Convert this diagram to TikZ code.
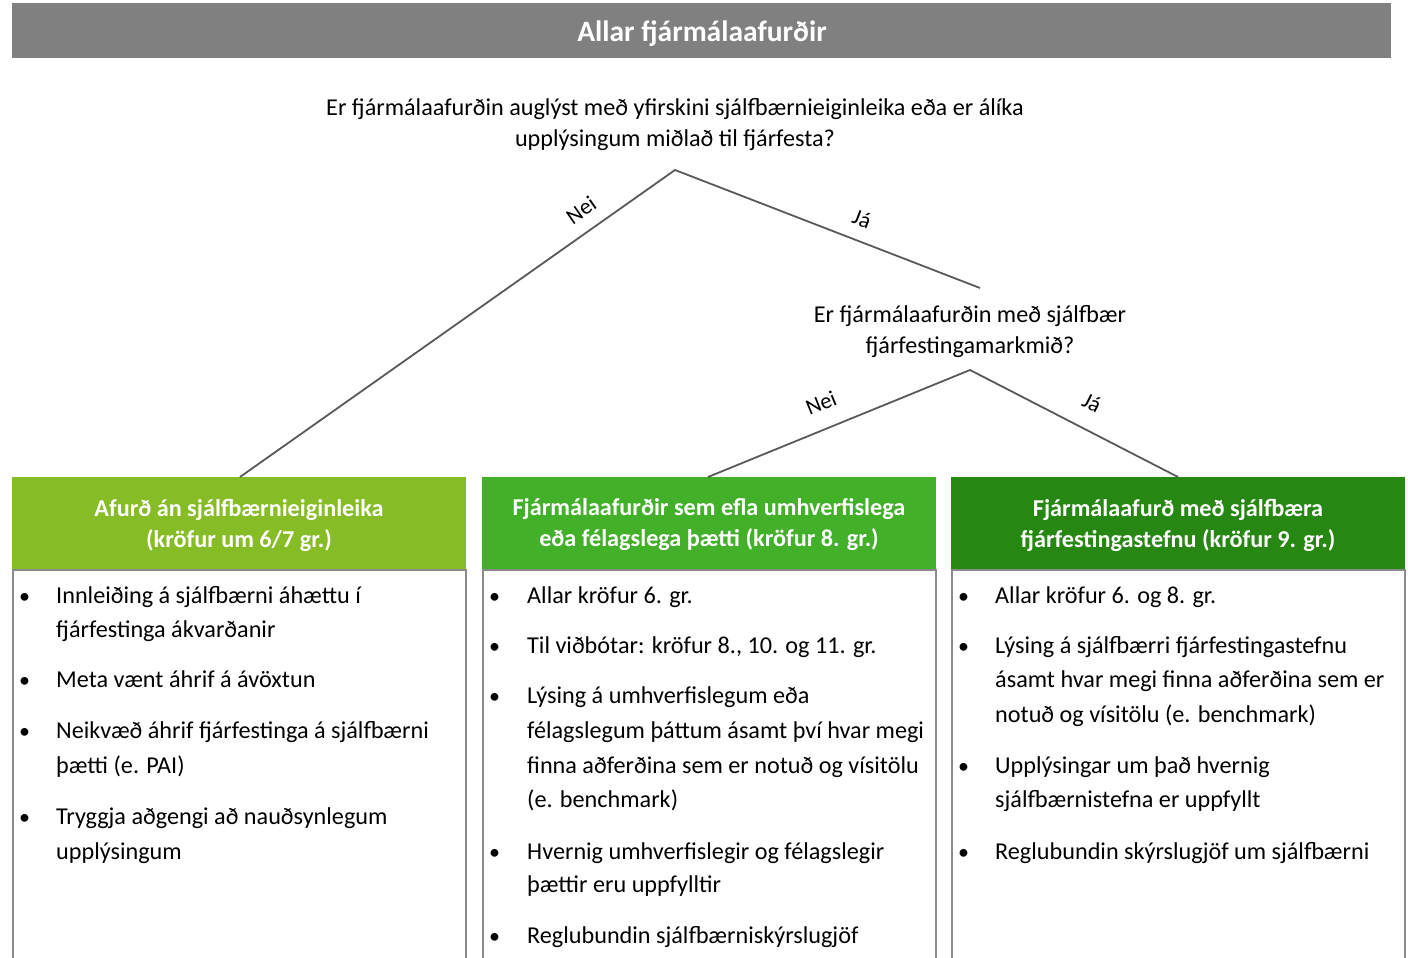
\documentclass[tikz,border=0pt]{standalone}
\usepackage{fontspec}
\setmainfont{Carlito}
\definecolor{hdrgray}{HTML}{808080}
\definecolor{gA}{HTML}{86BC25}
\definecolor{gB}{HTML}{43B02A}
\definecolor{gC}{HTML}{268712}
\definecolor{edgegray}{HTML}{8A8A8A}
\definecolor{linegray}{HTML}{595959}
\tikzset{
  conn/.style={draw=linegray, line width=1.8pt},
  lbl/.style={font=\fontsize{22.5}{26}\selectfont, inner sep=0pt},
  qtext/.style={font=\fontsize{24.2}{31}\selectfont, align=center, inner sep=0pt},
  boxhead/.style={font=\bfseries\fontsize{24.2}{31}\selectfont, text=white, align=center, inner sep=0pt},
  bl/.style={font=\fontsize{24.2}{28}\selectfont, anchor=base west, inner sep=0pt},
  dot/.style={font=\fontsize{22}{28}\selectfont, anchor=base west, inner sep=0pt},
}
\begin{document}
\begin{tikzpicture}[x=1pt,y=-1pt]
\useasboundingbox (0,0) rectangle (1408,958);
% top bar
\fill[hdrgray] (12,3) rectangle (1391,58);
\node[font=\bfseries\fontsize{29.5}{34}\selectfont, text=white, inner sep=0pt] (title) at (702,34) {Allar fjármálaafurðir};
% questions
\node[qtext] (q1) at (675,125) {Er fjármálaafurðin auglýst með yfirskini sjálfbærnieiginleika eða er álíka\\upplýsingum miðlað til fjárfesta?};
\node[qtext] (q2) at (970,332) {Er fjármálaafurðin með sjálfbær\\fjárfestingamarkmið?};
% connector points
\coordinate (a1) at (675,170);
\coordinate (a2) at (970,370);
\coordinate (q2top) at (980,288);
\coordinate (t1) at (240,477);
\coordinate (t2) at (708,477);
\coordinate (t3) at (1178,477);
% boxes
\fill[gA] (12,477) rectangle (466,570);
\fill[gB] (482,477) rectangle (936,570);
\fill[gC] (951,477) rectangle (1405,570);
\draw[edgegray, line width=1.3pt] (13,958) -- (13,570) -- (466,570) -- (466,958);
\draw[edgegray, line width=1.3pt] (483,958) -- (483,570) -- (936,570) -- (936,958);
\draw[edgegray, line width=1.3pt] (952,958) -- (952,570) -- (1405,570) -- (1405,958);
\node[boxhead] (h1) at (239,525) {Afurð án sjálfbærnieiginleika\\(kröfur um 6/7 gr.)};
\node[boxhead] (h2) at (709,525) {Fjármálaafurðir sem efla umhverfislega\\eða félagslega þætti (kröfur 8. gr.)};
\node[boxhead] (h3) at (1178,525) {Fjármálaafurð með sjálfbæra\\fjárfestingastefnu (kröfur 9. gr.)};
% connectors
\draw[conn] (t1) -- (a1) -- (q2top);
\draw[conn] (t2) -- (a2) -- (t3);
\node[lbl, rotate=35] (n1) at (581,210) {Nei};
\node[lbl, rotate=-21] (j1) at (862,219) {Já};
\node[lbl, rotate=22] (n2) at (821,403) {Nei};
\node[lbl, rotate=-27] (j2) at (1092,403) {Já};
% box 1 bullets
\node[dot] (b1a) at (19,603) {•};
\node[bl] (l1a) at (56,603) {Innleiðing á sjálfbærni áhættu í};
\node[bl] (l1b) at (56,637) {fjárfestinga ákvarðanir};
\node[dot] (b1b) at (19,687) {•};
\node[bl] (l1c) at (56,687) {Meta vænt áhrif á ávöxtun};
\node[dot] (b1c) at (19,738) {•};
\node[bl] (l1d) at (56,738) {Neikvæð áhrif fjárfestinga á sjálfbærni};
\node[bl] (l1e) at (56,773) {þætti (e. PAI)};
\node[dot] (b1d) at (19,824) {•};
\node[bl] (l1f) at (56,824) {Tryggja aðgengi að nauðsynlegum};
\node[bl] (l1g) at (56,859) {upplýsingum};
% box 2 bullets
\node[dot] (b2a) at (489,603) {•};
\node[bl] (l2a) at (527,603) {Allar kröfur 6. gr.};
\node[dot] (b2b) at (489,653) {•};
\node[bl] (l2b) at (527,653) {Til viðbótar: kröfur 8., 10. og 11. gr.};
\node[dot] (b2c) at (489,703) {•};
\node[bl] (l2c) at (527,703) {Lýsing á umhverfislegum eða};
\node[bl] (l2d) at (527,738) {félagslegum þáttum ásamt því hvar megi};
\node[bl] (l2e) at (527,773) {finna aðferðina sem er notuð og vísitölu};
\node[bl] (l2f) at (527,807) {(e. benchmark)};
\node[dot] (b2d) at (489,859) {•};
\node[bl] (l2g) at (527,859) {Hvernig umhverfislegir og félagslegir};
\node[bl] (l2h) at (527,892) {þættir eru uppfylltir};
\node[dot] (b2e) at (489,943) {•};
\node[bl] (l2i) at (527,943) {Reglubundin sjálfbærniskýrslugjöf};
% box 3 bullets
\node[dot] (b3a) at (958,603) {•};
\node[bl] (l3a) at (995,603) {Allar kröfur 6. og 8. gr.};
\node[dot] (b3b) at (958,653) {•};
\node[bl] (l3b) at (995,653) {Lýsing á sjálfbærri fjárfestingastefnu};
\node[bl] (l3c) at (995,687) {ásamt hvar megi finna aðferðina sem er};
\node[bl] (l3d) at (995,722) {notuð og vísitölu (e. benchmark)};
\node[dot] (b3c) at (958,773) {•};
\node[bl] (l3e) at (995,773) {Upplýsingar um það hvernig};
\node[bl] (l3f) at (995,807) {sjálfbærnistefna er uppfyllt};
\node[dot] (b3d) at (958,859) {•};
\node[bl] (l3g) at (995,859) {Reglubundin skýrslugjöf um sjálfbærni};
\end{tikzpicture}
\end{document}
